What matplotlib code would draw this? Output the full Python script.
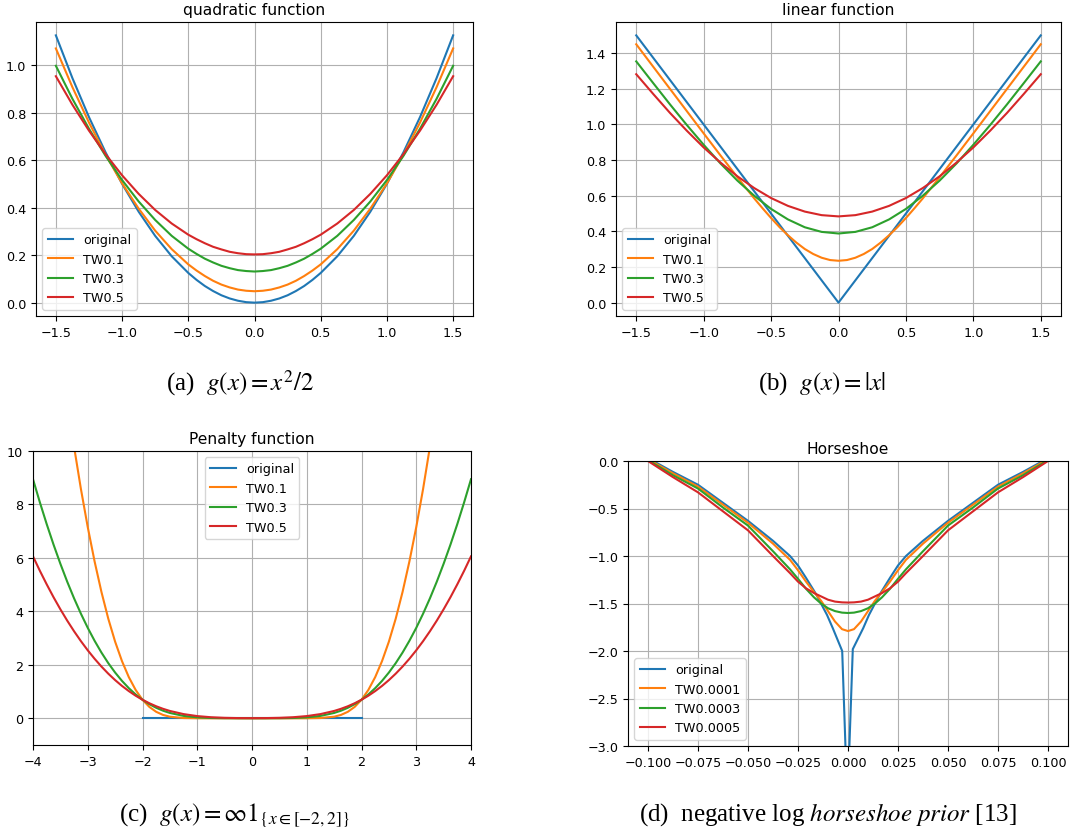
import matplotlib
matplotlib.use("Agg")
import matplotlib.pyplot as plt

# quadratic function g(x) = x^2/2 and its smoothed versions
quad_x = [-1.5, -1.375, -1.25, -1.125, -1.0, -0.875, -0.75, -0.625, -0.5, -0.4375, -0.375, -0.3125,
          -0.25, -0.1875, -0.125, -0.0625, 0.0, 0.0625, 0.125, 0.1875, 0.25, 0.3125, 0.375, 0.4375,
          0.5, 0.625, 0.75, 0.875, 1.0, 1.125, 1.25, 1.375, 1.5]
quad_orig = [1.125, 0.945, 0.781, 0.633, 0.5, 0.383, 0.281, 0.195, 0.125, 0.0957, 0.070, 0.0488,
             0.031, 0.0176, 0.008, 0.002, 0.0, 0.002, 0.008, 0.0176, 0.031, 0.0488, 0.070, 0.0957,
             0.125, 0.195, 0.281, 0.383, 0.5, 0.633, 0.781, 0.945, 1.125]
quad_tw01 = [1.070, 0.907, 0.758, 0.623, 0.502, 0.396, 0.303, 0.225, 0.161, 0.135, 0.112, 0.092,
             0.076, 0.064, 0.055, 0.050, 0.048, 0.050, 0.055, 0.064, 0.076, 0.092, 0.112, 0.135,
             0.161, 0.225, 0.303, 0.396, 0.502, 0.623, 0.758, 0.907, 1.070]
quad_tw03 = [0.997, 0.858, 0.732, 0.618, 0.516, 0.426, 0.348, 0.281, 0.227, 0.205, 0.185, 0.169,
             0.155, 0.145, 0.137, 0.133, 0.131, 0.133, 0.137, 0.145, 0.155, 0.169, 0.185, 0.205,
             0.227, 0.281, 0.348, 0.426, 0.516, 0.618, 0.732, 0.858, 0.997]
quad_tw05 = [0.953, 0.833, 0.724, 0.625, 0.536, 0.458, 0.390, 0.333, 0.286, 0.267, 0.250, 0.235,
             0.224, 0.214, 0.208, 0.204, 0.203, 0.204, 0.208, 0.214, 0.224, 0.235, 0.250, 0.267,
             0.286, 0.333, 0.390, 0.458, 0.536, 0.625, 0.724, 0.833, 0.953]

# linear function g(x) = |x|
lin_x = [-1.5, -1.375, -1.25, -1.125, -1.0, -0.875, -0.75, -0.625, -0.5, -0.375, -0.25, -0.125, 0.0,
         0.125, 0.25, 0.375, 0.5, 0.625, 0.75, 0.875, 1.0, 1.125, 1.25, 1.375, 1.5]
lin_orig = [1.5, 1.375, 1.25, 1.125, 1.0, 0.875, 0.75, 0.625, 0.5, 0.375, 0.25, 0.125, 0.0,
            0.125, 0.25, 0.375, 0.5, 0.625, 0.75, 0.875, 1.0, 1.125, 1.25, 1.375, 1.5]
lin_tw01_x = [-1.5, -1.375, -1.25, -1.125, -1.0, -0.875, -0.75, -0.625, -0.5625, -0.5, -0.4375,
              -0.375, -0.3125, -0.25, -0.1875, -0.125, -0.0625, 0.0, 0.0625, 0.125, 0.1875, 0.25,
              0.3125, 0.375, 0.4375, 0.5, 0.5625, 0.625, 0.75, 0.875, 1.0, 1.125, 1.25, 1.375, 1.5]
lin_tw01 = [1.45, 1.325, 1.20, 1.075, 0.950, 0.826, 0.704, 0.585, 0.529, 0.475, 0.424, 0.378, 0.337,
            0.301, 0.273, 0.252, 0.239, 0.235, 0.239, 0.252, 0.273, 0.301, 0.337, 0.378, 0.424, 0.475,
            0.529, 0.585, 0.704, 0.826, 0.950, 1.075, 1.20, 1.325, 1.45]
lin_tw03 = [1.354, 1.233, 1.113, 0.997, 0.886, 0.781, 0.685, 0.600, 0.526, 0.467, 0.423, 0.397, 0.388,
            0.397, 0.423, 0.467, 0.526, 0.600, 0.685, 0.781, 0.886, 0.997, 1.113, 1.233, 1.354]
lin_tw05 = [1.282, 1.172, 1.065, 0.965, 0.871, 0.786, 0.709, 0.643, 0.587, 0.543, 0.511, 0.491, 0.484,
            0.491, 0.511, 0.543, 0.587, 0.643, 0.709, 0.786, 0.871, 0.965, 1.065, 1.172, 1.282]

# penalty function (indicator of [-2, 2])
pen_orig_x = [-2.0, 2.0]
pen_orig = [0.0, 0.0]
pen_x = [-4.0, -3.875, -3.75, -3.625, -3.5, -3.375, -3.25, -3.125, -3.0, -2.875, -2.75, -2.625, -2.5,
         -2.375, -2.25, -2.125, -2.0, -1.875, -1.75, -1.625, -1.5, -1.25, -1.0, -0.75, -0.5, -0.25, 0.0,
         0.25, 0.5, 0.75, 1.0, 1.25, 1.5, 1.625, 1.75, 1.875, 2.0, 2.125, 2.25, 2.375, 2.5, 2.625, 2.75,
         2.875, 3.0, 3.125, 3.25, 3.375, 3.5, 3.625, 3.75, 3.875, 4.0]
pen_tw01 = [22.79, 20.31, 17.97, 15.79, 13.77, 11.89, 10.16, 8.581, 7.152, 5.868, 4.727, 3.726, 2.866,
            2.139, 1.539, 1.060, 0.693, 0.425, 0.242, 0.125, 0.059, 0.009, 0.001, 0.0, 0.0, 0.0, 0.0,
            0.0, 0.0, 0.0, 0.001, 0.009, 0.059, 0.125, 0.242, 0.425, 0.693, 1.060, 1.539, 2.139, 2.866,
            3.726, 4.727, 5.868, 7.152, 8.581, 10.16, 11.89, 13.77, 15.79, 17.97, 20.31, 22.79]
pen_tw03 = [8.944, 8.082, 7.266, 6.499, 5.781, 5.110, 4.488, 3.913, 3.383, 2.899, 2.459, 2.063, 1.711,
            1.399, 1.127, 0.892, 0.693, 0.527, 0.392, 0.283, 0.199, 0.089, 0.035, 0.011, 0.003, 0.0007,
            0.0003,
            0.0007, 0.003, 0.011, 0.035, 0.089, 0.199, 0.283, 0.392, 0.527, 0.693, 0.892, 1.127, 1.399,
            1.711, 2.063, 2.459, 2.899, 3.383, 3.913, 4.488, 5.110, 5.781, 6.499, 7.266, 8.082, 8.944]
pen_tw05 = [6.058, 5.520, 5.012, 4.530, 4.078, 3.653, 3.256, 2.886, 2.543, 2.226, 1.935, 1.669, 1.428,
            1.211, 1.017, 0.844, 0.693, 0.562, 0.449, 0.354, 0.274, 0.156, 0.082, 0.039, 0.017, 0.007,
            0.005,
            0.007, 0.017, 0.039, 0.082, 0.156, 0.274, 0.354, 0.449, 0.562, 0.693, 0.844, 1.017, 1.211,
            1.428, 1.669, 1.935, 2.226, 2.543, 2.886, 3.256, 3.653, 4.078, 4.530, 5.012, 5.520, 6.058]

# horseshoe prior
hs_orig_x = [-0.1, -0.0875, -0.075, -0.0625, -0.05, -0.0375, -0.029, -0.025, -0.021, -0.016, -0.0135,
             -0.0105, -0.0076, -0.0029, -0.0003, 0.0024, 0.0076, 0.0105, 0.0135, 0.016, 0.021, 0.025,
             0.029, 0.0375, 0.05, 0.0625, 0.075, 0.0875, 0.1]
hs_orig = [0.03, -0.115, -0.25, -0.44, -0.63, -0.84, -1.0, -1.10, -1.23, -1.40, -1.50, -1.62, -1.76,
           -2.0, -3.6, -1.98, -1.76, -1.62, -1.50, -1.40, -1.23, -1.10, -1.0, -0.84, -0.63, -0.44, -0.25,
           -0.115, 0.03]
hs_x = [-0.1, -0.0875, -0.075, -0.0625, -0.05, -0.0375, -0.029, -0.025, -0.021, -0.017, -0.0135, -0.01,
        -0.0065, -0.003, 0.0, 0.003, 0.0065, 0.01, 0.0135, 0.017, 0.021, 0.025, 0.029, 0.0375, 0.05,
        0.0625, 0.075, 0.0875, 0.1]
hs_tw1 = [0.02, -0.13, -0.27, -0.46, -0.65, -0.87, -1.04, -1.15, -1.27, -1.38, -1.47, -1.58, -1.69,
          -1.77, -1.79, -1.77, -1.69, -1.58, -1.47, -1.38, -1.27, -1.15, -1.04, -0.87, -0.65, -0.46,
          -0.27, -0.13, 0.02]
hs_tw3 = [0.01, -0.15, -0.29, -0.49, -0.68, -0.95, -1.14, -1.24, -1.345, -1.435, -1.50, -1.55, -1.58,
          -1.596, -1.60, -1.596, -1.58, -1.55, -1.50, -1.435, -1.345, -1.24, -1.14, -0.95, -0.68, -0.49,
          -0.29, -0.15, 0.01]
hs_tw5 = [0.0, -0.17, -0.33, -0.53, -0.73, -1.00, -1.18, -1.27, -1.34, -1.39, -1.425, -1.46, -1.48,
          -1.488, -1.49, -1.488, -1.48, -1.46, -1.425, -1.39, -1.34, -1.27, -1.18, -1.00, -0.73, -0.53,
          -0.33, -0.17, 0.0]

plt.rcParams["mathtext.fontset"] = "stix"

W, H = 1070, 828
fig = plt.figure(figsize=(W / 100, H / 100), dpi=100)


def make_axes(left, top, right, bottom):
    return fig.add_axes([left / W, 1 - bottom / H, (right - left) / W, (bottom - top) / H])


def style(ax, title, loc):
    ax.set_title(title, fontsize=11.2)
    ax.grid(True)
    ax.tick_params(labelsize=9.2)
    ax.legend(loc=loc, fontsize=9.2)


lw = 1.5
ax1 = make_axes(36, 23, 473, 317)
ax1.plot(quad_x, quad_orig, lw=lw, label="original")
ax1.plot(quad_x, quad_tw01, lw=lw, label="TW0.1")
ax1.plot(quad_x, quad_tw03, lw=lw, label="TW0.3")
ax1.plot(quad_x, quad_tw05, lw=lw, label="TW0.5")
style(ax1, "quadratic function", "lower left")

ax2 = make_axes(616, 23, 1061, 317)
ax2.plot(lin_x, lin_orig, lw=lw, label="original")
ax2.plot(lin_tw01_x, lin_tw01, lw=lw, label="TW0.1")
ax2.plot(lin_x, lin_tw03, lw=lw, label="TW0.3")
ax2.plot(lin_x, lin_tw05, lw=lw, label="TW0.5")
style(ax2, "linear function", "lower left")

ax3 = make_axes(33, 452, 471, 746)
ax3.plot(pen_orig_x, pen_orig, lw=lw, label="original")
ax3.plot(pen_x, pen_tw01, lw=lw, label="TW0.1")
ax3.plot(pen_x, pen_tw03, lw=lw, label="TW0.3")
ax3.plot(pen_x, pen_tw05, lw=lw, label="TW0.5")
ax3.set_xlim(-4, 4)
ax3.set_ylim(-1, 10)
style(ax3, "Penalty function", "upper center")

ax4 = make_axes(628, 462, 1068, 747)
ax4.plot(hs_orig_x, hs_orig, lw=lw, label="original")
ax4.plot(hs_x, hs_tw1, lw=lw, label="TW0.0001")
ax4.plot(hs_x, hs_tw3, lw=lw, label="TW0.0003")
ax4.plot(hs_x, hs_tw5, lw=lw, label="TW0.0005")
ax4.set_ylim(-3, 0)
style(ax4, "Horseshoe", "lower left")

cap = dict(fontsize=18, family="Liberation Serif", ha="center", va="baseline")
fig.text(240 / W, 1 - 390 / H, r"(a)  $g(x) = x^2/2$", **cap)
fig.text(822 / W, 1 - 390 / H, r"(b)  $g(x) = |x|$", **cap)
fig.text(234 / W, 1 - 821 / H, r"(c)  $g(x) = \infty 1_{\{x \in [-2,2]\}}$", **cap)
fig.text(828 / W, 1 - 821 / H, r"(d)  negative log $\mathit{horseshoe\ prior}$ [13]", **cap)

fig.savefig("out.png", dpi=100)
